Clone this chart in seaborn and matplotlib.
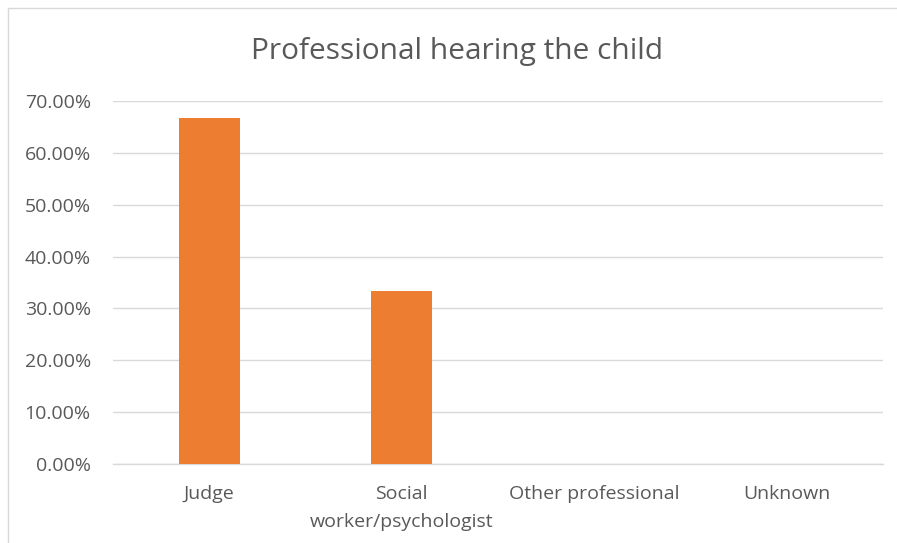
import matplotlib
matplotlib.use("Agg")
import matplotlib.pyplot as plt
import matplotlib.ticker as mtick
from matplotlib.patches import Rectangle
import pandas as pd
import seaborn as sns

# Data
categories = ["Judge", "Social\nworker/psychologist", "Other professional", "Unknown"]
shares = [0.6667, 0.3333, 0.0, 0.0]
yticks = [0.0, 0.1, 0.2, 0.3, 0.4, 0.5, 0.6, 0.7]

df = pd.DataFrame({"category": categories, "share": shares})

sns.set_style("white")
plt.rcParams["font.family"] = ["Open Sans", "DejaVu Sans"]

fig = plt.figure(figsize=(8.97, 5.43), dpi=100)
ax = fig.add_axes([0.126, 0.1455, 0.858, 0.6685])

sns.barplot(data=df, x="category", y="share", color="#ED7D31",
            width=0.317, saturation=1, linewidth=0, ax=ax, zorder=3)

ax.set_ylim(0, 0.7)
ax.set_yticks(yticks)
ax.yaxis.set_major_formatter(mtick.PercentFormatter(1.0, decimals=2))
ax.grid(axis="y", color="#D9D9D9", linewidth=1, zorder=0)
for s in ["top", "right", "left"]:
    ax.spines[s].set_visible(False)
ax.spines["bottom"].set_color("#D9D9D9")
ax.spines["bottom"].set_linewidth(1)
ax.tick_params(axis="both", length=0, colors="#595959")
ax.tick_params(axis="y", labelsize=14, pad=16)
ax.tick_params(axis="x", labelsize=14, pad=15)
for lbl in ax.get_xticklabels():
    lbl.set_linespacing(1.7)
ax.set_xlabel("")
ax.set_ylabel("")

fig.text(0.51, 0.906, "Professional hearing the child", ha="center", va="center",
         fontsize=21.5, color="#595959")

# chart-area border (cropped at right and bottom in the reference)
fig.patches.append(Rectangle((8 / 897, -0.1), 1.2, (543 - 8) / 543 + 0.1,
                             transform=fig.transFigure, fill=False,
                             edgecolor="#D9D9D9", linewidth=1))

fig.savefig("out.png", dpi=100)
